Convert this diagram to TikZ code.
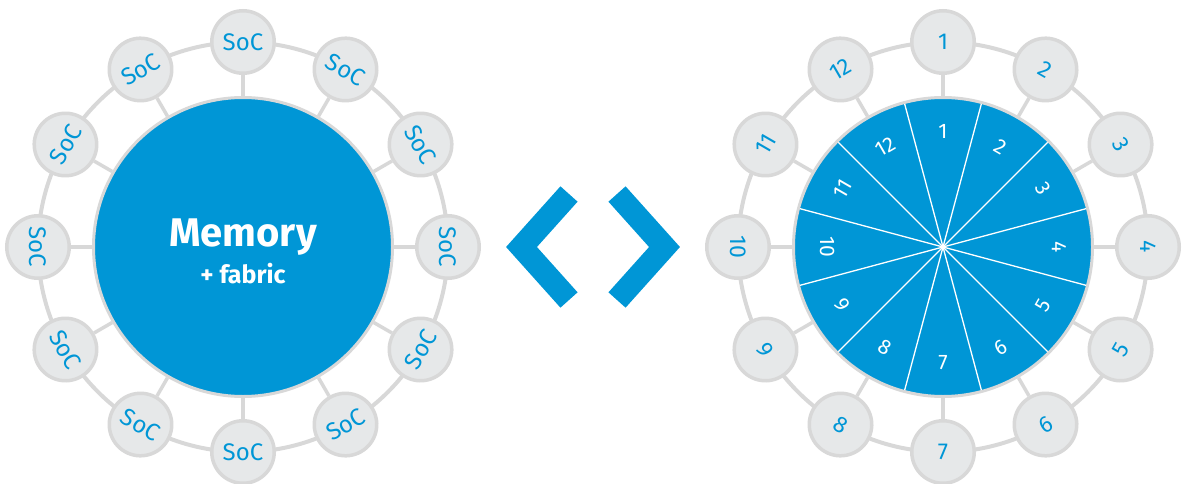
\documentclass[tikz,border=0pt]{standalone}
\usepackage{fontspec}
\setmainfont{Fira Sans}
\definecolor{hpblue}{HTML}{0096D6}
\definecolor{ballgray}{HTML}{E6E8E9}
\definecolor{ringgray}{HTML}{D8D8D8}

\begin{document}
\begin{tikzpicture}[x=1pt, y=1pt,
    ring/.style={ringgray, line width=4pt},
    spoke/.style={ringgray, line width=3.5pt},
    core/.style={circle, fill=hpblue, draw=ringgray, line width=3pt, minimum size=299pt, inner sep=0pt},
    ball/.style={circle, fill=ballgray, draw=ringgray, line width=3.5pt, minimum size=62.5pt, inner sep=0pt, text=hpblue},
    slice/.style={white, line width=1.3pt},
    chevron/.style={hpblue, line width=23pt, line join=miter}]

    \useasboundingbox (0,0) rectangle (1182,483);

    % left: memory + fabric with its ring of SoCs
    \coordinate (lc) at (243,236);
    \draw[ring] (lc) circle[radius=205];
    \node[core] (mem) at (lc) {};
    \node[anchor=base, text=white, font=\fontsize{40}{40}\selectfont\bfseries] (memtitle) at ([yshift=1pt]mem.center) {Memory};
    \node[anchor=base, text=white, font=\fontsize{25}{25}\selectfont\bfseries] (memsub) at ([yshift=-36pt]mem.center) {+ fabric};
    \foreach \i in {1,...,12} {
        \pgfmathsetmacro\a{mod(480-30*\i,360)}
        \pgfmathsetmacro\r{\a<180 ? \a-90 : \a+90}
        \node[ball, rotate=\r, font=\fontsize{24}{24}\selectfont] (soc\i) at ([shift={(\a:205)}]lc) {SoC};
        \draw[spoke] (mem) -- (soc\i);
    }

    % middle
    \draw[chevron] (569,289) -- (521.5,236) -- (569,183);
    \draw[chevron] (617,289) -- (664.5,236) -- (617,183);

    % right: memory cut in 12 slices
    \coordinate (rc) at (943,236);
    \draw[ring] (rc) circle[radius=205];
    \node[core] (pie) at (rc) {};
    \foreach \k in {0,...,11} \draw[slice] (rc) -- ++(15+30*\k:148);
    \foreach \i in {1,...,12} {
        \pgfmathsetmacro\a{mod(480-30*\i,360)}
        \pgfmathsetmacro\r{\a<180 ? \a-90 : \a+90}
        \node[rotate=\r, text=white, font=\fontsize{21}{21}\selectfont] (part\i) at ([shift={(\a:116)}]rc) {\i};
        \node[ball, rotate=\r, font=\fontsize{23}{23}\selectfont] (num\i) at ([shift={(\a:205)}]rc) {\i};
        \draw[spoke] (pie) -- (num\i);
    }

\end{tikzpicture}
\end{document}
